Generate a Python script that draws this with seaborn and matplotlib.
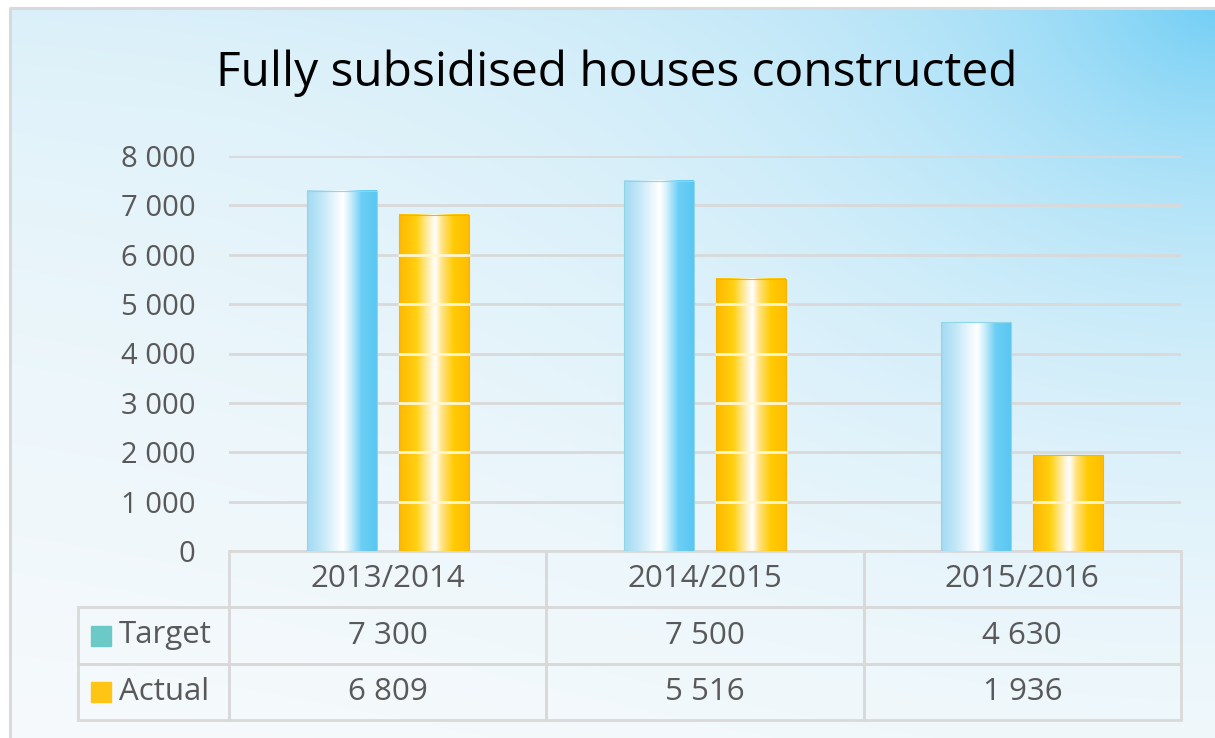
import numpy as np
import pandas as pd
import matplotlib.pyplot as plt
import seaborn as sns
from matplotlib.colors import LinearSegmentedColormap, to_rgb
from matplotlib.patches import Rectangle
from matplotlib.ticker import FuncFormatter

# Data
years = ['2013/2014', '2014/2015', '2015/2016']
series = ['Target', 'Actual']
target = [7300, 7500, 4630]
actual = [6809, 5516, 1936]
key_colors = ['#6BC9C7', '#FFC514']

df = pd.DataFrame({
    'year': years * 2,
    'series': [series[0]] * 3 + [series[1]] * 3,
    'houses': target + actual,
})


def fmt(v):
    return f'{int(v):,}'.replace(',', ' ')


sns.set_theme(style='white')
plt.rcParams['font.family'] = ['Open Sans', 'DejaVu Sans']
text_grey = '#595959'
line_grey = '#d9d9d9'

W, H = 1215, 738
fig = plt.figure(figsize=(W / 100, H / 100), dpi=100)

# Background: soft sky-blue glow from the top right corner
bg = fig.add_axes([0, 0, 1, 1], zorder=-10)
yy, xx = np.mgrid[0:H, 0:W]
v = yy / H
top_left = np.array(to_rgb('#d8eff9'))
bottom = np.array(to_rgb('#f7fafc'))
base = top_left[None, None, :] * (1 - v[..., None] ** 0.5) + bottom[None, None, :] * v[..., None] ** 0.5
d = np.hypot(xx - W, yy * 1.2)
t = np.exp(-d / 300.0)[..., None]
blue = np.array(to_rgb('#70cef5'))
img = base * (1 - t) + blue[None, None, :] * t
bg.imshow(img, extent=[0, W, H, 0], aspect='auto')
bg.fill_between([0, W], 0, 8, color='white')
bg.fill_between([0, 10], 0, H, color='white')
bg.plot([10, 10, W], [H, 8, 8], color=line_grey, lw=2.2)
bg.set_xlim(0, W)
bg.set_ylim(H, 0)
bg.axis('off')

# Main chart
ax = fig.add_axes([229 / W, 1 - 551 / H, 952 / W, 395 / H])
ax.patch.set_alpha(0)
sns.barplot(data=df, x='year', y='houses', hue='series', order=years, hue_order=series,
            palette=key_colors, width=0.58, gap=0.24, legend=False, ax=ax, zorder=3)

grads = [
    LinearSegmentedColormap.from_list('blue', [
        (0.0, '#a2daf3'), (0.22, '#c4e8f8'), (0.45, '#f4fbfe'), (0.52, '#ffffff'),
        (0.62, '#cdeefb'), (0.78, '#6ccff5'), (1.0, '#5ac7f2')]),
    LinearSegmentedColormap.from_list('gold', [
        (0.0, '#ffb700'), (0.25, '#ffd111'), (0.45, '#fff2cc'), (0.52, '#ffffff'),
        (0.62, '#ffe27e'), (0.78, '#ffcb05'), (1.0, '#ffbd00')]),
]
edges = ['#8fd6e6', '#f4b400']
strip = np.linspace(0, 1, 256)[None, :]
ticks = range(0, 8001, 1000)
for k, (cont, cmap, ec) in enumerate(zip(ax.containers, grads, edges)):
    for bar in cont:
        x0, w, h = bar.get_x(), bar.get_width(), bar.get_height()
        ax.imshow(cmap(strip), extent=[x0, x0 + w, 0, h], aspect='auto',
                  interpolation='bilinear', zorder=3)
        bar.set_facecolor('none')
        bar.set_edgecolor(ec)
        bar.set_linewidth(0.8)
        bar.set_zorder(4)
        if k == 1:
            # gridlines shine through the gold bars as pale stripes
            for yv in ticks[1:]:
                if yv < h:
                    ax.plot([x0, x0 + w], [yv, yv], color='#fff6d0', lw=2, zorder=5)

ax.set_xlim(-0.5, 2.5)
ax.set_ylim(0, 8000)
ax.set_yticks(ticks)
ax.yaxis.set_major_formatter(FuncFormatter(lambda val, _: fmt(val)))
ax.tick_params(axis='y', length=0, pad=24, labelsize=21, labelcolor=text_grey)
ax.tick_params(axis='x', length=0, labelbottom=False)
ax.set_xlabel('')
ax.set_ylabel('')
ax.set_axisbelow(True)
ax.yaxis.grid(True, color=line_grey, lw=2)
for s in ax.spines.values():
    s.set_visible(False)

# Data table under the chart
tx0 = (78 - 229) / 952
tw = (1181 - 78) / 952
th = 169 / 395
ty0 = -th
cell_text = [[''] + [fmt(x) for x in target], [''] + [fmt(x) for x in actual]]
tbl = ax.table(cellText=cell_text, colLabels=[''] + years, cellLoc='center',
               colWidths=[151, 317, 317, 317], bbox=[tx0, ty0, tw, th])
tbl.auto_set_font_size(False)
tbl.set_fontsize(22.5)
for (r, c), cell in tbl.get_celld().items():
    cell.set_facecolor('none')
    cell.set_edgecolor(line_grey)
    cell.set_linewidth(2)
    cell.get_text().set_color(text_grey)
tbl[0, 0].visible_edges = 'open'

for i, (name, col) in enumerate(zip(series, key_colors)):
    yc = ty0 + th - (i + 1.5) * th / 3
    ax.add_patch(Rectangle((tx0 + 13 / 952, yc - 10 / 395), 20 / 952, 20 / 395,
                           transform=ax.transAxes, color=col, clip_on=False))
    ax.text(tx0 + 41 / 952, yc, name, transform=ax.transAxes, ha='left', va='center',
            fontsize=22.5, color=text_grey)

fig.text(617 / W, 1 - 73 / H, 'Fully subsidised houses constructed', ha='center', va='center',
         fontsize=34.5, color='black')

fig.savefig('out.png', dpi=100)
